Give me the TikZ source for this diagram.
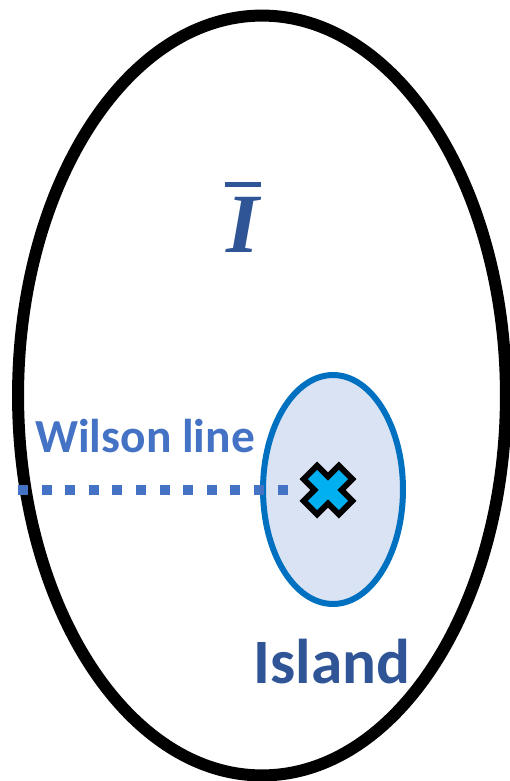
\documentclass[tikz,border=0pt]{standalone}
\usepackage{fontspec}
\newfontfamily\labelfont{Carlito}
\newfontfamily\symfont{Liberation Serif}
\usetikzlibrary{shapes.geometric}

\definecolor{wilsonblue}{HTML}{4472C4}
\definecolor{islandtext}{HTML}{2F5597}
\definecolor{islandfill}{HTML}{DAE3F3}
\definecolor{islandedge}{HTML}{0070C0}
\definecolor{crossfill}{HTML}{00B0F0}

\tikzset{
  region/.style={draw, ellipse, inner sep=0pt, outer sep=0pt},
  wilsondots/.style={wilsonblue, line width=0.2cm, dash pattern=on 0.2cm off 0.272cm},
}

\begin{document}
\begin{tikzpicture}[x=0.02cm, y=-0.02cm]
  \useasboundingbox (0,0) rectangle (510,781);
  \clip (0,0) rectangle (510,781);

  %% --- outer region ---
  \node[region, line width=0.24cm, minimum width=9.76cm, minimum height=15.2cm] (world) at (262,395.5) {};
  \node[text=islandtext, anchor=base, inner sep=0pt] (ibar) at (243,252)
    {\vbox{\offinterlineskip
       \hbox to 1cm{\hss\rule{0.74cm}{0.1cm}\hss}\kern0.2cm
       \hbox to 1cm{\hss\symfont\bfseries\itshape\fontsize{48}{52}\selectfont I\hss}}};

  %% --- island with the source inside ---
  \node[region, draw=islandedge, fill=islandfill, line width=0.12cm,
        minimum width=2.8cm, minimum height=4.58cm] (island) at (333,489.5) {};
  \coordinate (src) at (328,490);

  %% Wilson line: from the boundary to the source
  \draw[wilsondots, shorten >=0.74cm] (world.west |- src) -- (src);

  %% the source (cross)
  \fill[crossfill, shift={(src)}, rotate=45,
        preaction={draw=black, line width=0.24cm, line join=miter}]
    (21.8,6.5) -- (6.5,6.5) -- (6.5,21.8) -- (-6.5,21.8) -- (-6.5,6.5) -- (-21.8,6.5)
    -- (-21.8,-6.5) -- (-6.5,-6.5) -- (-6.5,-21.8) -- (6.5,-21.8) -- (6.5,-6.5) -- (21.8,-6.5) -- cycle;

  %% labels
  \node[text=wilsonblue, anchor=base west, inner sep=0pt,
        font=\labelfont\bfseries\fontsize{27}{32}\selectfont] (wilson) at (35,452) {Wilson line};
  \node[text=islandtext, anchor=base west, inner sep=0pt,
        font=\labelfont\bfseries\fontsize{36}{42}\selectfont] (islandlabel) at (253,683) {Island};
\end{tikzpicture}
\end{document}
